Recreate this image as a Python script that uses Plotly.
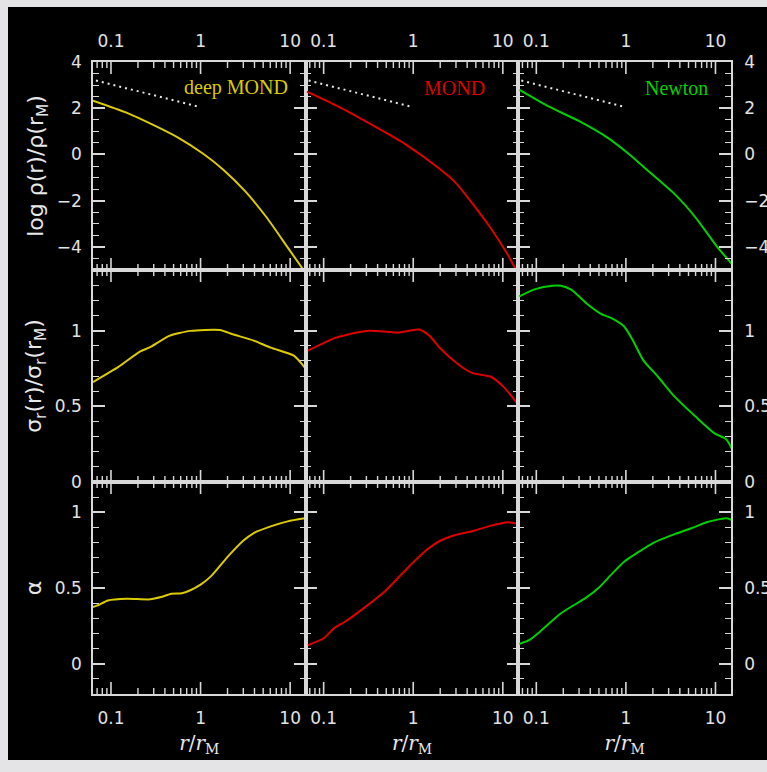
import plotly.graph_objects as go
from plotly.subplots import make_subplots
import math

# ---------------- data ----------------
models = ["deep MOND", "MOND", "Newton"]
colors = ["#dccb00", "#dd0000", "#00d000"]

# row 1 : log rho(r)/rho(r_M)
rho_r = {
    "deep MOND": [0.063, 0.151, 0.288, 0.555, 1.07, 1.82, 3.16, 5.5, 9.33, 14.1],
    "MOND":      [0.065, 0.143, 0.339, 0.813, 1.95, 3.02, 4.68, 7.24, 11.2, 13.8],
    "Newton":    [0.065, 0.135, 0.324, 0.617, 1.07, 1.82, 3.55, 6.03, 10.5, 15.1],
}
rho_v = {
    "deep MOND": [2.33, 1.80, 1.30, 0.74, 0.03, -0.68, -1.60, -2.74, -4.01, -5.0],
    "MOND":      [2.72, 2.09, 1.30, 0.45, -0.61, -1.25, -2.17, -3.16, -4.30, -4.94],
    "Newton":    [2.79, 2.09, 1.38, 0.74, 0.03, -0.75, -1.74, -2.74, -4.01, -4.72],
}
# reference slope (dotted)
ref_r = [0.068, 0.94]
ref_v = [3.2, 2.07]

# row 2 : sigma_r(r)/sigma_r(r_M)
sig_r = {
    "deep MOND": [0.063, 0.121, 0.208, 0.274, 0.447, 0.769, 1.64, 2.28, 3.93, 6.07, 11.0, 14.5],
    "MOND":      [0.0667, 0.132, 0.183, 0.316, 0.437, 0.675, 1.16, 1.52, 2.0, 3.09, 4.52, 7.36, 10.2, 15.3],
    "Newton":    [0.0645, 0.0975, 0.152, 0.187, 0.245, 0.379, 0.526, 0.690, 0.955, 1.19, 1.56, 2.28,
                  3.52, 6.07, 9.89, 13.0, 15.3],
}
sig_v = {
    "deep MOND": [0.66, 0.76, 0.86, 0.89, 0.965, 0.998, 1.004, 0.976, 0.934, 0.887, 0.834, 0.757],
    "MOND":      [0.867, 0.95, 0.973, 0.998, 0.996, 0.987, 1.007, 0.965, 0.883, 0.783, 0.721, 0.695, 0.628, 0.502],
    "Newton":    [1.226, 1.274, 1.296, 1.296, 1.27, 1.17, 1.11, 1.082, 1.027, 0.938, 0.805, 0.695,
                  0.562, 0.429, 0.319, 0.285, 0.219],
}

# row 3 : alpha
alp_r = {
    "deep MOND": [0.063, 0.0743, 0.0923, 0.151, 0.274, 0.36, 0.472, 0.619, 0.769, 1.01, 1.32, 2.05,
                  2.99, 3.93, 6.07, 9.38, 14.5],
    "MOND":      [0.0667, 0.101, 0.132, 0.173, 0.283, 0.488, 0.839, 1.45, 2.0, 2.77, 4.78, 7.38, 11.4, 15.3],
    "Newton":    [0.0645, 0.0828, 0.109, 0.187, 0.359, 0.498, 0.690, 0.955, 1.32, 2.05, 3.52, 5.45,
                  7.96, 13.0, 15.3],
}
alp_v = {
    "deep MOND": [0.374, 0.39, 0.418, 0.429, 0.425, 0.44, 0.462, 0.465, 0.485, 0.524, 0.58, 0.712,
                  0.812, 0.863, 0.907, 0.94, 0.96],
    "MOND":      [0.122, 0.17, 0.237, 0.277, 0.369, 0.48, 0.624, 0.757, 0.812, 0.845, 0.878, 0.912, 0.934, 0.923],
    "Newton":    [0.13, 0.155, 0.21, 0.332, 0.436, 0.502, 0.59, 0.673, 0.73, 0.80, 0.856, 0.896,
                  0.934, 0.96, 0.949],
}

x_major = [0.1, 1, 10]
x_major_text = ["0.1", "1", "10"]
x_minor = [0.07, 0.08, 0.09, 0.2, 0.3, 0.4, 0.5, 0.6, 0.7, 0.8, 0.9, 2, 3, 4, 5, 6, 7, 8, 9]
x_range = [0.063, 14.9]

y_titles = ["log ρ(r)/ρ(r<sub>M</sub>)",
            "σ<sub>r</sub>(r)/σ<sub>r</sub>(r<sub>M</sub>)",
            "α"]
x_title = "<i>r</i>/<i>r</i><sub>M</sub>"


def lg(vals):
    """log10 of radii -> position on the logarithmic r axis"""
    return [math.log10(v) for v in vals]


# ---------------- figure ----------------
row_px = [208, 212, 212]
fig = make_subplots(rows=3, cols=3, horizontal_spacing=0, vertical_spacing=0,
                    row_heights=row_px)

rows_data = [(rho_r, rho_v), (sig_r, sig_v), (alp_r, alp_v)]
for ri, (rd, vd) in enumerate(rows_data):
    for ci, m in enumerate(models):
        fig.add_trace(go.Scatter(x=lg(rd[m]), y=vd[m], mode="lines",
                                 line=dict(color=colors[ci], width=2, shape="spline", smoothing=0.6),
                                 showlegend=False, hoverinfo="skip"),
                      row=ri + 1, col=ci + 1)
        if ri == 0:
            fig.add_trace(go.Scatter(x=lg(ref_r), y=ref_v, mode="lines",
                                     line=dict(color="#e8e8e8", width=2, dash="2px,4px"),
                                     showlegend=False, hoverinfo="skip"),
                          row=1, col=ci + 1)

LC = "#d8d8d8"
TF = dict(family="DejaVu Sans", size=17, color="#e2e2e2")
common = dict(showline=True, linecolor=LC, linewidth=1.5, mirror=True,
              showgrid=False, zeroline=False, tickfont=TF)

yranges = [[-5, 4], [0, 1.4], [-0.2, 1.2]]
ydt = [2, 0.5, 0.5]
ymin = [0.5, 0.1, 0.1]

shapes = []
for ri in range(3):
    for ci in range(3):
        r, c = ri + 1, ci + 1
        k = ri * 3 + ci + 1
        xa = dict(common, type="linear", range=lg(x_range), ticks="",
                  tickmode="array", tickvals=lg(x_major), ticktext=x_major_text)
        if ri == 0:
            xa.update(side="top", showticklabels=True, ticklabelstandoff=6)
        elif ri == 2:
            xa.update(side="bottom", showticklabels=True, ticklabelstandoff=8,
                      title=dict(text=x_title, standoff=9,
                                 font=dict(family="DejaVu Serif", size=20, color="#e8e8e8")))
        else:
            xa.update(showticklabels=False)
        fig.update_xaxes(xa, row=r, col=c)

        ya = dict(common, mirror="allticks", ticks="inside", ticklen=12, tickwidth=1.6,
                  tickcolor=LC, range=yranges[ri], tickmode="linear", tick0=0, dtick=ydt[ri],
                  minor=dict(tickmode="linear", tick0=0, dtick=ymin[ri], ticks="inside",
                             ticklen=6, tickwidth=1.4, tickcolor=LC, showgrid=False))
        if ci == 0:
            ya.update(side="left", showticklabels=True, ticklabelstandoff=6,
                      title=dict(text=y_titles[ri], standoff=7,
                                 font=dict(family="DejaVu Sans", size=22, color="#e8e8e8")))
        elif ci == 2:
            ya.update(side="right", showticklabels=True, ticklabelstandoff=8)
        else:
            ya.update(showticklabels=False)
        fig.update_yaxes(ya, row=r, col=c)

        # r-axis tick marks (inside, on bottom and top frame) placed on the x scale
        xref = "x" if k == 1 else f"x{k}"
        yname = "yaxis" if k == 1 else f"yaxis{k}"
        d0, d1 = fig.layout[yname].domain
        span = d1 - d0
        for vals, L, w in ((x_major, 12, 1.6), (x_minor, 6, 1.4)):
            f = L / row_px[ri] * span
            for xv in lg(vals):
                for y0, y1 in ((d0, d0 + f), (d1, d1 - f)):
                    shapes.append(dict(type="line", xref=xref, yref="paper", layer="above",
                                       x0=xv, x1=xv, y0=y0, y1=y1,
                                       line=dict(color=LC, width=w)))

# model labels
lab_x = [0.925, 0.853, 0.90]
for ci, m in enumerate(models):
    xref = "x domain" if ci == 0 else f"x{ci + 1} domain"
    yref = "y domain" if ci == 0 else f"y{ci + 1} domain"
    fig.add_annotation(text=m, x=lab_x[ci], y=0.877, xref=xref, yref=yref,
                       xanchor="right", yanchor="middle", showarrow=False,
                       font=dict(family="Liberation Serif", size=20, color=colors[ci]))

# black panel of the slide
W, H = 767, 772
ml, mr, mt, mb = 93, 36, 62, 78
pw, ph = W - ml - mr, H - mt - mb
bg = dict(type="rect", xref="paper", yref="paper", layer="below",
          x0=(8 - ml) / pw, x1=(W + 5 - ml) / pw,
          y0=(H - mb - 760) / ph, y1=(H - mb - 7) / ph,
          fillcolor="black", line=dict(width=0))

fig.update_layout(shapes=[bg] + shapes,
                  width=W, height=H, margin=dict(l=ml, r=mr, t=mt, b=mb, autoexpand=False),
                  paper_bgcolor="#e4e4e6", plot_bgcolor="black", showlegend=False)

fig.write_html("out.html")
